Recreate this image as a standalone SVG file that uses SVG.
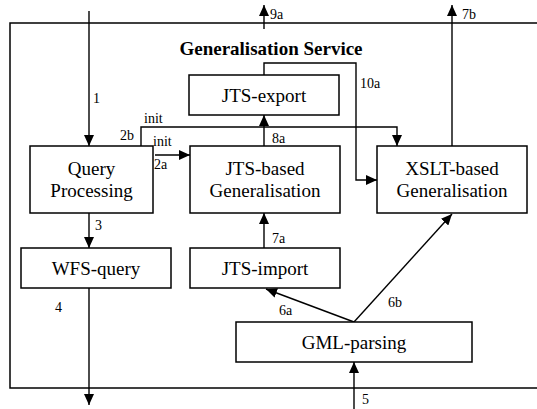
<svg xmlns="http://www.w3.org/2000/svg" width="537" height="409" viewBox="0 0 537 409">
<style>
.box{fill:#fff;stroke:#000;stroke-width:1.5}
.c{fill:none;stroke:#000;stroke-width:1.4}
.t{font-family:'Liberation Serif','Times New Roman',serif;font-size:19px;text-anchor:middle;fill:#000}
.l{font-family:'Liberation Serif','Times New Roman',serif;font-size:14px;fill:#000}
</style>
<defs>
<marker id="ah" markerUnits="userSpaceOnUse" markerWidth="12" markerHeight="10" refX="11" refY="5" orient="auto">
<path d="M0,0 L11,5 L0,10 Z" fill="#000"/>
</marker>
</defs>
<rect x="10" y="23" width="540" height="365" fill="none" stroke="#000" stroke-width="1.5"/>
<text class="t" x="271" y="55" font-family="Liberation Serif" font-weight="bold">Generalisation Service</text>
<g id="connectors">
<line class="c" x1="89" y1="11" x2="89" y2="146" marker-end="url(#ah)"/>
<line class="c" x1="89" y1="213" x2="89" y2="248" marker-end="url(#ah)"/>
<line class="c" x1="89" y1="288" x2="89" y2="405" marker-end="url(#ah)"/>
<line class="c" x1="354" y1="409" x2="354" y2="362" marker-end="url(#ah)"/>
<line class="c" x1="264" y1="29" x2="264" y2="5" marker-end="url(#ah)"/>
<line class="c" x1="452" y1="146" x2="452" y2="5" marker-end="url(#ah)"/>
<polyline class="c" points="264,75 264,63 356,63 356,180 377,180" marker-end="url(#ah)"/>
<line class="c" x1="264" y1="146" x2="264" y2="115" marker-end="url(#ah)"/>
<polyline class="c" points="141,146 141,127 397,127 397,146" marker-end="url(#ah)"/>
<line class="c" x1="155" y1="155" x2="190" y2="155" marker-end="url(#ah)"/>
<line class="c" x1="264" y1="248" x2="264" y2="213" marker-end="url(#ah)"/>
<line class="c" x1="354" y1="322" x2="266" y2="289" marker-end="url(#ah)"/>
<line class="c" x1="354" y1="322" x2="452" y2="214" marker-end="url(#ah)"/>
<text class="l" x="93" y="103">1</text>
<text class="l" x="120" y="140">2b</text>
<text class="l" x="144" y="123">init</text>
<text class="l" x="153" y="146">init</text>
<text class="l" x="154" y="169">2a</text>
<text class="l" x="270" y="19">9a</text>
<text class="l" x="462" y="19">7b</text>
<text class="l" x="360" y="88">10a</text>
<text class="l" x="272" y="143">8a</text>
<text class="l" x="95" y="230">3</text>
<text class="l" x="55" y="312">4</text>
<text class="l" x="272" y="243">7a</text>
<text class="l" x="279" y="315">6a</text>
<text class="l" x="388" y="307">6b</text>
<text class="l" x="362" y="404">5</text>
</g>
<g id="query-processing">
<rect class="box" x="30" y="146" width="123" height="67"/>
<text class="t" x="91.5" y="175">Query</text>
<text class="t" x="91.5" y="197">Processing</text>
</g>
<g id="jts-based">
<rect class="box" x="190" y="146" width="150" height="67"/>
<text class="t" x="265" y="175">JTS-based</text>
<text class="t" x="265" y="197">Generalisation</text>
</g>
<g id="xslt-based">
<rect class="box" x="377" y="146" width="150" height="67"/>
<text class="t" x="452" y="175">XSLT-based</text>
<text class="t" x="452" y="197">Generalisation</text>
</g>
<g id="jts-export">
<rect class="box" x="189" y="75" width="150" height="40"/>
<text class="t" x="264" y="102">JTS-export</text>
</g>
<g id="wfs-query">
<rect class="box" x="21" y="248" width="150" height="40"/>
<text class="t" x="96" y="275">WFS-query</text>
</g>
<g id="jts-import">
<rect class="box" x="190" y="248" width="150" height="40"/>
<text class="t" x="265" y="275">JTS-import</text>
</g>
<g id="gml-parsing">
<rect class="box" x="236" y="322" width="236" height="40"/>
<text class="t" x="354" y="349">GML-parsing</text>
</g>
</svg>
